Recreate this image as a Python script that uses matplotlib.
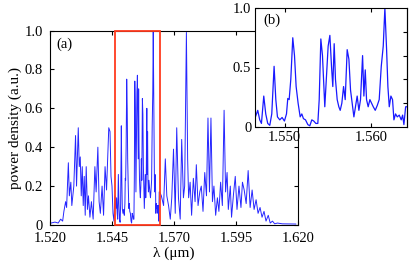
import numpy as np
import matplotlib
matplotlib.use("Agg")
import matplotlib.pyplot as plt
from matplotlib.patches import Rectangle
from matplotlib.ticker import FuncFormatter

# spectrum, wavelength in nm
wl_left = [1520.4, 1522.0, 1523.3, 1524.3, 1525.1, 1525.6, 1526.3, 1526.7, 1527.4, 1527.8,
           1528.4, 1528.8, 1529.6, 1530.3, 1530.7, 1531.4, 1531.8, 1532.2, 1532.6, 1533.0,
           1533.4, 1533.8, 1534.2, 1534.6, 1535.1, 1535.5, 1536.1, 1536.7, 1537.4, 1538.1,
           1538.6, 1539.3, 1539.8, 1540.3, 1541.0, 1541.6, 1542.2, 1542.8, 1543.3, 1543.7,
           1544.2, 1544.6, 1545.0, 1545.4, 1545.8, 1546.2]
p_left = [0.01, 0.015, 0.01, 0.03, 0.02, 0.07, 0.12, 0.09, 0.32, 0.15,
          0.22, 0.10, 0.20, 0.46, 0.20, 0.50, 0.30, 0.35, 0.15, 0.30,
          0.10, 0.25, 0.05, 0.30, 0.08, 0.15, 0.04, 0.12, 0.03, 0.30,
          0.17, 0.40, 0.12, 0.06, 0.20, 0.05, 0.30, 0.18, 0.35, 0.50,
          0.48, 0.25, 0.20, 0.06, 0.02, 0.15]

wl_zoom = [1546.59, 1546.86, 1547.09, 1547.29, 1547.56, 1547.79, 1548.02, 1548.26, 1548.49, 1548.76,
           1548.96, 1549.15, 1549.42, 1549.69, 1549.96, 1550.20, 1550.35, 1550.51, 1550.70, 1550.93,
           1551.13, 1551.32, 1551.55, 1551.79, 1551.98, 1552.17, 1552.41, 1552.68, 1552.91, 1553.14,
           1553.37, 1553.61, 1553.84, 1554.00, 1554.19, 1554.38, 1554.54, 1554.65, 1554.85, 1555.04,
           1555.24, 1555.43, 1555.58, 1555.74, 1555.89, 1556.09, 1556.28, 1556.44, 1556.63, 1556.83,
           1557.02, 1557.25, 1557.45, 1557.64, 1557.83, 1558.03, 1558.22, 1558.41, 1558.61, 1558.80,
           1559.04, 1559.19, 1559.35, 1559.50, 1559.69, 1559.89, 1560.08, 1560.28, 1560.51, 1560.74,
           1560.97, 1561.21, 1561.44, 1561.63, 1561.83, 1561.98, 1562.14, 1562.33, 1562.52, 1562.68,
           1562.87, 1563.07, 1563.30, 1563.53, 1563.69, 1563.84, 1564.04, 1564.23]
p_zoom = [0.085, 0.14, 0.06, 0.03, 0.26, 0.11, 0.03, 0.014, 0.11, 0.51,
          0.23, 0.085, 0.06, 0.08, 0.05, 0.11, 0.24, 0.23, 0.40, 0.75,
          0.60, 0.34, 0.20, 0.085, 0.11, 0.07, 0.06, 0.02, 0.01, 0.06,
          0.05, 0.03, 0.03, 0.23, 0.74, 0.60, 0.34, 0.17, 0.43, 0.68,
          0.77, 0.51, 0.34, 0.70, 0.40, 0.23, 0.17, 0.14, 0.20, 0.34,
          0.23, 0.65, 0.57, 0.31, 0.20, 0.085, 0.17, 0.26, 0.14, 0.23,
          0.60, 0.26, 0.48, 0.23, 0.17, 0.23, 0.20, 0.17, 0.14, 0.18,
          0.23, 0.51, 0.68, 1.00, 0.65, 0.34, 0.17, 0.26, 0.23, 0.06,
          0.11, 0.085, 0.10, 0.06, 0.10, 0.02, 0.17, 0.17]

wl_right = [1564.9, 1565.8, 1566.5, 1567.1, 1567.8, 1568.5, 1569.1, 1569.8, 1570.5, 1571.1,
            1571.8, 1572.5, 1573.1, 1573.8, 1574.3, 1575.0, 1575.5, 1575.9, 1576.5, 1577.1,
            1577.8, 1578.5, 1579.0, 1579.7, 1580.4, 1581.0, 1581.7, 1582.4, 1583.1, 1583.7,
            1584.3, 1584.9, 1585.5, 1586.1, 1586.8, 1587.5, 1588.1, 1588.8, 1589.5, 1590.2,
            1590.8, 1591.4, 1591.9, 1592.7, 1593.2, 1594.0, 1594.7, 1595.4, 1596.2, 1597.0,
            1597.6, 1598.3, 1599.1, 1599.9, 1600.7, 1601.5, 1602.3, 1603.1, 1603.9, 1604.7,
            1605.5, 1606.3, 1607.1, 1608.0, 1608.8, 1609.7, 1610.6, 1611.7, 1613.7, 1619.1]
p_right = [0.15, 0.10, 0.34, 0.15, 0.10, 0.03, 0.14, 0.39, 0.06, 0.50,
           0.14, 0.03, 0.44, 0.14, 0.20, 0.99, 0.34, 0.14, 0.22, 0.05,
           0.24, 0.12, 0.31, 0.10, 0.17, 0.20, 0.07, 0.27, 0.15, 0.55,
           0.17, 0.55, 0.12, 0.20, 0.05, 0.14, 0.07, 0.22, 0.10, 0.59,
           0.17, 0.27, 0.08, 0.20, 0.04, 0.16, 0.25, 0.08, 0.20, 0.09,
           0.22, 0.18, 0.11, 0.28, 0.09, 0.18, 0.08, 0.13, 0.06, 0.09,
           0.04, 0.07, 0.02, 0.05, 0.01, 0.02, 0.006, 0.01, 0.006, 0.005]

box_lo, box_hi = 1.5464, 1.5644

wl = np.array(wl_left + wl_zoom + wl_right) / 1000.0
power = np.array(p_left + p_zoom + p_right)

plt.rcParams['font.family'] = ['Liberation Serif', 'DejaVu Serif']
plt.rcParams['font.size'] = 10.5

fig = plt.figure(figsize=(4.09, 2.70), dpi=100)
W, H = 409.0, 270.0

# main spectrum (a)
ax = fig.add_axes([50 / W, 1 - 225 / H, 248 / W, 194.5 / H])
ax.plot(wl, power, color='blue', lw=0.7, alpha=0.85)
ax.set_xlim(1.520, 1.620)
ax.set_ylim(0, 1.0)
ax.set_xticks([1.520, 1.545, 1.570, 1.595, 1.620])
ax.set_yticks([0, 0.2, 0.4, 0.6, 0.8, 1.0])
ax.xaxis.set_major_formatter(FuncFormatter(lambda v, p: '%.3f' % v))
ax.yaxis.set_major_formatter(FuncFormatter(lambda v, p: '0' if v == 0 else '%.1f' % v))
ax.tick_params(direction='in', top=True, right=True, length=3, width=0.8, pad=5)
ax.set_xlabel('λ (μm)', fontsize=11, labelpad=1)
ax.set_ylabel('power density (a.u.)', fontsize=11, labelpad=2)
ax.text(0.025, 0.93, '(a)', transform=ax.transAxes, va='center')
ax.add_patch(Rectangle((box_lo, 0), box_hi - box_lo, 1.0, fill=False,
                       edgecolor='#ff3b1f', lw=1.3, clip_on=False, zorder=5))

# zoomed part (b)
axi = fig.add_axes([255.5 / W, 1 - 127 / H, 151.5 / W, 119 / H])
axi.plot(wl, power, color='blue', lw=0.9, alpha=0.9)
axi.set_xlim(box_lo + 0.0002, box_hi - 0.0002)
axi.set_ylim(0, 1.0)
axi.set_xticks([1.550, 1.560])
axi.set_yticks([0, 0.5, 1.0])
axi.xaxis.set_major_formatter(FuncFormatter(lambda v, p: '%.3f' % v))
axi.yaxis.set_major_formatter(FuncFormatter(lambda v, p: '0' if v == 0 else '%.1f' % v))
axi.tick_params(direction='in', top=True, length=3, width=0.8, pad=3)
sec = axi.secondary_yaxis('right')
sec.set_yticks([0.2, 0.4, 0.6, 0.8])
sec.tick_params(direction='in', length=3, width=0.8, labelright=False)
axi.text(0.05, 0.9, '(b)', transform=axi.transAxes, va='center')

fig.savefig('out.png', dpi=100)
